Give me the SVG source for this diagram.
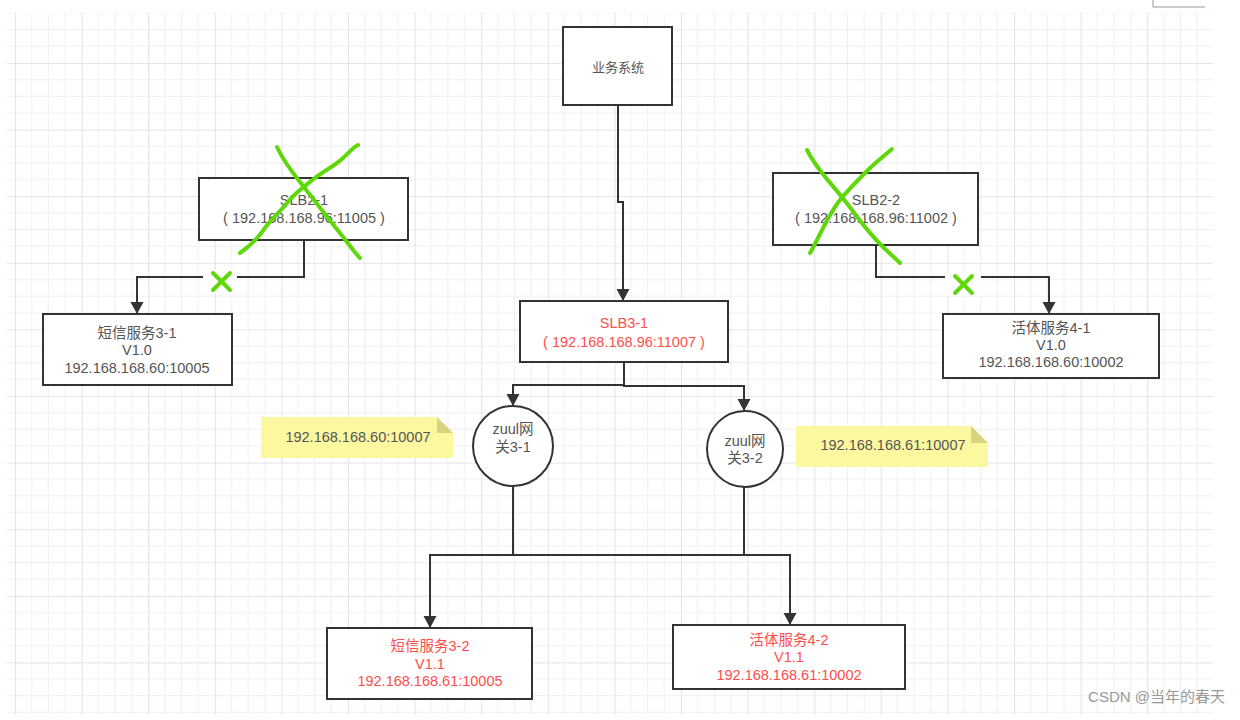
<svg xmlns="http://www.w3.org/2000/svg" width="1240" height="720" viewBox="0 0 1240 720">
<defs>
<pattern id="grid" patternUnits="userSpaceOnUse" x="15" y="-3.6" width="66.6" height="66.6">
<path d="M16.65 0V66.6M33.3 0V66.6M49.95 0V66.6M0 16.65H66.6M0 33.3H66.6M0 49.95H66.6" stroke="#efefef" stroke-width="1" fill="none"/>
<path d="M0.5 0V66.6M0 0.5H66.6" stroke="#e4e4e4" stroke-width="1.2" fill="none"/>
</pattern>
<marker id="arrow" viewBox="0 0 12 14" refX="11" refY="7" markerWidth="12" markerHeight="14" markerUnits="userSpaceOnUse" orient="auto">
<path d="M0 0.5L12 7L0 13.5Z" fill="#333"/>
</marker>
</defs>
<style>
.box{fill:#fff;stroke:#333;stroke-width:2}
.t{font-family:"Liberation Sans","Noto Sans CJK SC",sans-serif;font-size:14.5px;fill:#555;text-anchor:middle}
.r{fill:#ff4d4d}
.c{fill:none;stroke:#333;stroke-width:2}
.g{fill:none;stroke:#5fd80a;stroke-width:4;stroke-linecap:round;stroke-linejoin:round}
.note{fill:#fbf8a0}
.fold{fill:#d6d47e}
</style>
<rect width="1240" height="720" fill="#fff"/>
<rect x="7" y="13" width="1206" height="702" fill="url(#grid)"/>
<path d="M1153 0V7H1205" fill="none" stroke="#999" stroke-width="1"/>

<g id="connectors">
<path class="c" d="M618 105V202H623V300" marker-end="url(#arrow)"/>
<path class="c" d="M304 240V277H137V313" marker-end="url(#arrow)"/>
<path class="c" d="M876 245V277H1049V313" marker-end="url(#arrow)"/>
<path class="c" d="M624 362V385H513V405" marker-end="url(#arrow)"/>
<path class="c" d="M624 362V386H744V410" marker-end="url(#arrow)"/>
<path class="c" d="M513 486V555H430V627" marker-end="url(#arrow)"/>
<path class="c" d="M744 487V555H790V624" marker-end="url(#arrow)"/>
<path class="c" d="M513 555H744"/>
</g>

<g id="n-biz"><rect class="box" x="563" y="27" width="109" height="78"/><text class="t" x="618" y="72" style="font-size:13px">业务系统</text></g>

<g id="n-slb21"><rect class="box" x="199" y="178" width="209" height="62"/>
<text class="t" x="304" y="205">SLB2-1</text><text class="t" x="304" y="223">( 192.168.168.96:11005 )</text></g>

<g id="n-slb22"><rect class="box" x="773" y="173" width="205" height="72"/>
<text class="t" x="876" y="205">SLB2-2</text><text class="t" x="876" y="223">( 192.168.168.96:11002 )</text></g>

<g id="n-sms31"><rect class="box" x="43" y="314" width="189" height="71"/>
<text class="t" x="137" y="338">短信服务3-1</text><text class="t" x="137" y="355">V1.0</text><text class="t" x="137" y="373">192.168.168.60:10005</text></g>

<g id="n-live41"><rect class="box" x="943" y="314" width="216" height="64"/>
<text class="t" x="1051" y="333">活体服务4-1</text><text class="t" x="1051" y="350">V1.0</text><text class="t" x="1051" y="367">192.168.168.60:10002</text></g>

<g id="n-slb31"><rect class="box" x="520" y="301" width="208" height="61"/>
<text class="t r" x="624" y="328">SLB3-1</text><text class="t r" x="624" y="347">( 192.168.168.96:11007 )</text></g>

<g id="n-zuul31"><circle class="box" cx="513" cy="446" r="40"/>
<text class="t" x="513" y="434">zuul网</text><text class="t" x="513" y="452">关3-1</text></g>

<g id="n-zuul32"><circle class="box" cx="745" cy="449" r="38"/>
<text class="t" x="745" y="446">zuul网</text><text class="t" x="745" y="463">关3-2</text></g>

<g id="note1"><path class="note" d="M261 417H437L453 433V458H261Z"/><path class="fold" d="M437 417V433H453Z"/>
<text class="t" x="358" y="442">192.168.168.60:10007</text></g>

<g id="note2"><path class="note" d="M796 426H971L988 443V467H796Z"/><path class="fold" d="M971 426V443H988Z"/>
<text class="t" x="893" y="450">192.168.168.61:10007</text></g>

<g id="n-sms32"><rect class="box" x="327" y="628" width="205" height="71"/>
<text class="t r" x="430" y="651">短信服务3-2</text><text class="t r" x="430" y="669">V1.1</text><text class="t r" x="430" y="686">192.168.168.61:10005</text></g>

<g id="n-live42"><rect class="box" x="673" y="625" width="232" height="64"/>
<text class="t r" x="789" y="645">活体服务4-2</text><text class="t r" x="789" y="662">V1.1</text><text class="t r" x="789" y="680">192.168.168.61:10002</text></g>

<g id="marks">
<rect x="203" y="270" width="34" height="24" fill="#fff"/>
<path class="g" d="M213 273L230 290M230 273L213 290"/>
<rect x="945" y="272" width="36" height="24" fill="#fff"/>
<path class="g" d="M955 276L972 293M972 276L955 293"/>
<path class="g" d="M277 147C283 160 292 172 300 182C310 195 318 205 328 218C336 228 344 238 350 246C354 251 357 255 360 258"/>
<path class="g" d="M358 145C352 148 348 154 343 158C335 166 325 170 315 178C305 186 296 192 288 202C280 212 270 220 262 232C256 240 250 246 240 253"/>
<path class="g" d="M807 150C812 160 818 168 826 178C836 190 845 200 855 214C864 226 872 236 882 246C889 253 895 258 900 263"/>
<path class="g" d="M892 149C884 156 876 162 868 170C858 180 848 190 840 200C832 210 826 222 820 234C816 242 813 248 810 253"/>
</g>

<text x="1225" y="702" style="font-family:'Liberation Sans','Noto Sans CJK SC',sans-serif;font-size:15px;fill:#999;text-anchor:end">CSDN @当年的春天</text>
</svg>
